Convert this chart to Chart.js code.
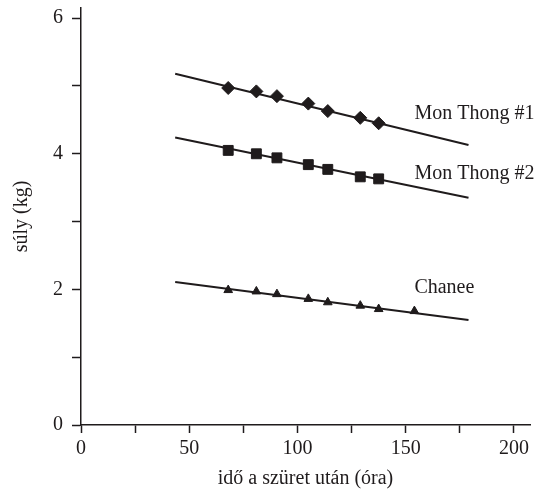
<!DOCTYPE html>
<html>
<head>
<meta charset="utf-8">
<script src="https://cdn.jsdelivr.net/npm/chart.js@4/dist/chart.umd.min.js"></script>
<style>
  html, body { margin: 0; padding: 0; background: #fff; }
</style>
</head>
<body>
<canvas id="weightChart" width="550" height="495"></canvas>
<script>
// measured hours after harvest
const hours = [68, 81, 90.5, 105, 114, 129, 137.5];
const chaneeHours = [68, 81, 90.5, 105, 114, 129, 137.5, 154];

// weights (kg)
const monThong1 = [4.97, 4.92, 4.85, 4.74, 4.63, 4.53, 4.45];
const monThong2 = [4.05, 4.00, 3.94, 3.84, 3.77, 3.66, 3.63];
const chanee = [1.99, 1.97, 1.93, 1.86, 1.81, 1.76, 1.71, 1.68];

// fitted lines (start / end)
const fitHours = [43.5, 179];
const fitMonThong1 = [5.18, 4.13];
const fitMonThong2 = [4.24, 3.35];
const fitChanee = [2.11, 1.55];

const seriesNames = ['Mon Thong #1', 'Mon Thong #2', 'Chanee'];
const xTickValues = [0, 25, 50, 75, 100, 125, 150, 175, 200];
const xTickLabels = [0, 50, 100, 150, 200];
const yTickValues = [0, 1, 2, 3, 4, 5, 6];
const yTickLabels = [0, 2, 4, 6];

const ink = '#1f1b1c';
const serif = '"Liberation Serif", "Times New Roman", serif';

function pts(xs, ys) {
    return xs.map((x, i) => ({ x: x, y: ys[i] }));
}

function fitLine(ys) {
    return {
        data: pts(fitHours, ys),
        showLine: true,
        borderColor: ink,
        borderWidth: 2,
        pointRadius: 0,
        order: 2
    };
}

function markers(xs, ys, style, r) {
    return {
        data: pts(xs, ys),
        showLine: false,
        pointStyle: style,
        pointRadius: r,
        backgroundColor: ink,
        borderColor: ink,
        borderWidth: 1,
        order: 1
    };
}

// series names next to the lines
const seriesLabels = {
    id: 'seriesLabels',
    afterDatasetsDraw(chart) {
        const ctx = chart.ctx;
        const xs = chart.scales.x, ys = chart.scales.y;
        const anchors = [[154, 4.585], [154, 3.70], [154, 2.02]];
        ctx.save();
        ctx.fillStyle = ink;
        ctx.font = '20px ' + serif;
        ctx.textAlign = 'left';
        ctx.textBaseline = 'middle';
        seriesNames.forEach((name, i) => {
            ctx.fillText(name, xs.getPixelForValue(anchors[i][0]), ys.getPixelForValue(anchors[i][1]));
        });
        ctx.restore();
    }
};

new Chart(document.getElementById('weightChart'), {
    type: 'scatter',
    data: {
        datasets: [
            fitLine(fitMonThong1),
            fitLine(fitMonThong2),
            fitLine(fitChanee),
            markers(hours, monThong1, 'rectRot', 6.5),
            markers(hours, monThong2, 'rect', 7),
            markers(chaneeHours, chanee, 'triangle', 5)
        ]
    },
    options: {
        responsive: false,
        animation: false,
        devicePixelRatio: 1,
        layout: { padding: { top: 6, right: 20, left: 0, bottom: 0 } },
        plugins: {
            legend: { display: false },
            tooltip: { enabled: false }
        },
        scales: {
            x: {
                type: 'linear',
                min: 0,
                max: 207.4,
                afterBuildTicks: s => { s.ticks = xTickValues.map(v => ({ value: v })); },
                afterFit: s => { s.height = 70; s.paddingLeft = 0; s.paddingRight = 0; },
                border: { display: true, color: ink, width: 1.5 },
                grid: { drawOnChartArea: false, drawTicks: true, tickLength: 8, tickColor: ink, tickWidth: 1.5 },
                ticks: {
                    color: ink,
                    font: { family: serif, size: 20 },
                    padding: 4,
                    maxRotation: 0,
                    autoSkip: false,
                    callback: v => xTickLabels.includes(v) ? String(v) : ''
                },
                title: {
                    display: true,
                    text: 'idő a szüret után (óra)',
                    color: ink,
                    font: { family: serif, size: 20 },
                    padding: { top: 0, bottom: 4 }
                }
            },
            y: {
                type: 'linear',
                min: 0,
                max: 6.15,
                afterBuildTicks: s => { s.ticks = yTickValues.map(v => ({ value: v })); },
                afterFit: s => { s.width = 81; s.paddingTop = 0; s.paddingBottom = 0; },
                border: { display: true, color: ink, width: 1.5 },
                grid: { drawOnChartArea: false, drawTicks: true, tickLength: 9, tickColor: ink, tickWidth: 1.5 },
                ticks: {
                    color: ink,
                    font: { family: serif, size: 20 },
                    padding: 9,
                    autoSkip: false,
                    callback: v => yTickLabels.includes(v) ? String(v) : ''
                },
                title: {
                    display: true,
                    text: 'súly (kg)',
                    color: ink,
                    font: { family: serif, size: 20 },
                    padding: { top: 10, bottom: 0 }
                }
            }
        }
    },
    plugins: [seriesLabels]
});
</script>
</body>
</html>
